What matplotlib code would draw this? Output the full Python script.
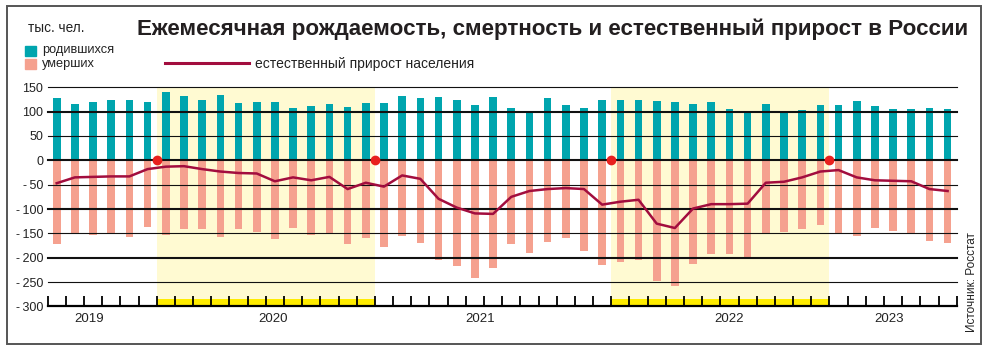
import numpy as np
import matplotlib
matplotlib.use('Agg')
from matplotlib import pyplot as plt
from matplotlib import patches

plt.rcParams['font.family'] = ['Liberation Sans', 'DejaVu Sans']

# Monthly values, thousand people
births = [127, 115, 120, 123, 123, 119, 140, 132, 123, 135, 117, 120,
          120, 108, 112, 116, 110, 118, 118, 132, 128, 130, 124, 114,
          130, 108, 101, 128, 114, 108, 124, 124, 124, 122, 120, 116,
          120, 106, 100, 116, 100, 104, 114, 114, 122, 112, 106, 106,
          108, 106]
deaths = [172, 150, 154, 151, 157, 137, 153, 141, 141, 157, 141, 147,
          161, 140, 153, 151, 172, 159, 177, 155, 170, 204, 218, 241,
          221, 172, 190, 168, 160, 186, 215, 209, 205, 247, 258, 213,
          192, 192, 200, 150, 147, 141, 133, 150, 155, 139, 145, 150,
          166, 170]
natural = [-47, -35, -34, -33, -33, -18, -13, -12, -18, -23, -26, -27,
           -43, -35, -41, -34, -59, -46, -54, -31, -38, -79, -97, -109,
           -110, -75, -63, -59, -57, -59, -91, -85, -81, -130, -139, -99,
           -90, -90, -89, -46, -44, -35, -23, -20, -35, -41, -42, -43,
           -59, -63]

years = ['2019', '2020', '2021', '2022', '2023']
year_pos = [1.8, 11.9, 23.3, 37.0, 45.8]
# highlighted periods (first and last month index)
periods = [(6, 17), (31, 42)]

teal = '#00A5AE'
salmon = '#F5A18F'
crimson = '#A20D3E'

fig = plt.figure(figsize=(9.89, 3.51), dpi=100)
W, H = 989, 351
ax = fig.add_axes([47.6 / W, (H - 306.4) / H, (956.7 - 47.6) / W, (306.4 - 87.3) / H])

x = np.arange(len(births))
ax.bar(x, births, width=0.42, color=teal, zorder=2)
ax.bar(x, -np.array(deaths), width=0.42, color=salmon, zorder=2)

for a, b in periods:
    ax.axvspan(a - 0.5, b + 0.5, color='#FFFAD2', zorder=0, lw=0)
    ax.bar(np.arange(a, b + 1), 16, bottom=-300, width=1.0, color='#FFEC00', zorder=1)

for lev in range(150, -300, -50):
    ax.axhline(lev, color='#111111', lw=1.5 if lev % 100 == 0 else 0.8, zorder=3, clip_on=False)

ax.plot(x, natural, color=crimson, lw=1.8, zorder=4)

dots = [p for a, b in periods for p in (a - 0.5, b + 0.5)]
ax.plot(dots, [0] * len(dots), 'o', color='#E8201E', ms=6, zorder=5, clip_on=False)

ax.set_xlim(-0.5, len(births) - 0.5)
ax.set_ylim(-300, 150)
for s in ['top', 'right', 'left']:
    ax.spines[s].set_visible(False)
ax.spines['bottom'].set_linewidth(1.6)
ax.spines['bottom'].set_zorder(6)

ax.set_xticks(np.arange(-0.5, len(births)))
ax.set_xticklabels([])
ax.tick_params(axis='x', which='major', direction='in', length=7, width=1.3, color='black')
ax.set_xticks(year_pos, minor=True)
ax.set_xticklabels(years, minor=True, fontsize=9.5, color='#222222')
ax.tick_params(axis='x', which='minor', length=0, pad=5)

yt = list(range(150, -301, -50))
ax.set_yticks(yt)
ax.set_yticklabels([str(v) if v >= 0 else '-\u2009' + str(-v) for v in yt], fontsize=9, color='#222222')
ax.tick_params(axis='y', length=0, pad=3)

# frame
fig.patches.append(patches.Rectangle((7 / W, (H - 344) / H), (981 - 7) / W, (344 - 6) / H,
                                     transform=fig.transFigure, fill=False, ec='#555555', lw=1.4))

fig.text(968 / W, (H - 35) / H, 'Ежемесячная рождаемость, смертность и естественный прирост в России',
         ha='right', va='baseline', fontsize=16.1, fontweight='bold', color='#231F20')
fig.text(28 / W, (H - 32) / H, 'тыс. чел.', ha='left', va='baseline', fontsize=9.8, color='#222222')

fig.patches.append(patches.Rectangle((25 / W, (H - 55.5) / H), 10.5 / W, 9 / H,
                                     transform=fig.transFigure, color=teal))
fig.patches.append(patches.Rectangle((25 / W, (H - 68.5) / H), 10.5 / W, 9 / H,
                                     transform=fig.transFigure, color=salmon))
fig.text(42 / W, (H - 50) / H, 'родившихся', ha='left', va='center', fontsize=9.2, color='#222222')
fig.text(42 / W, (H - 64.5) / H, 'умерших', ha='left', va='center', fontsize=9.2, color='#222222')
fig.lines.append(plt.Line2D([165 / W, 249 / W], [(H - 63) / H] * 2, transform=fig.transFigure,
                            color=crimson, lw=2.2))
fig.text(255 / W, (H - 64) / H, 'естественный прирост населения', ha='left', va='center',
         fontsize=10, color='#222222')

fig.text(972 / W, (H - 282) / H, 'Источник: Росстат', rotation=90, ha='center', va='center',
         fontsize=8.5, color='#222222')

fig.savefig('out.png', dpi=100)
